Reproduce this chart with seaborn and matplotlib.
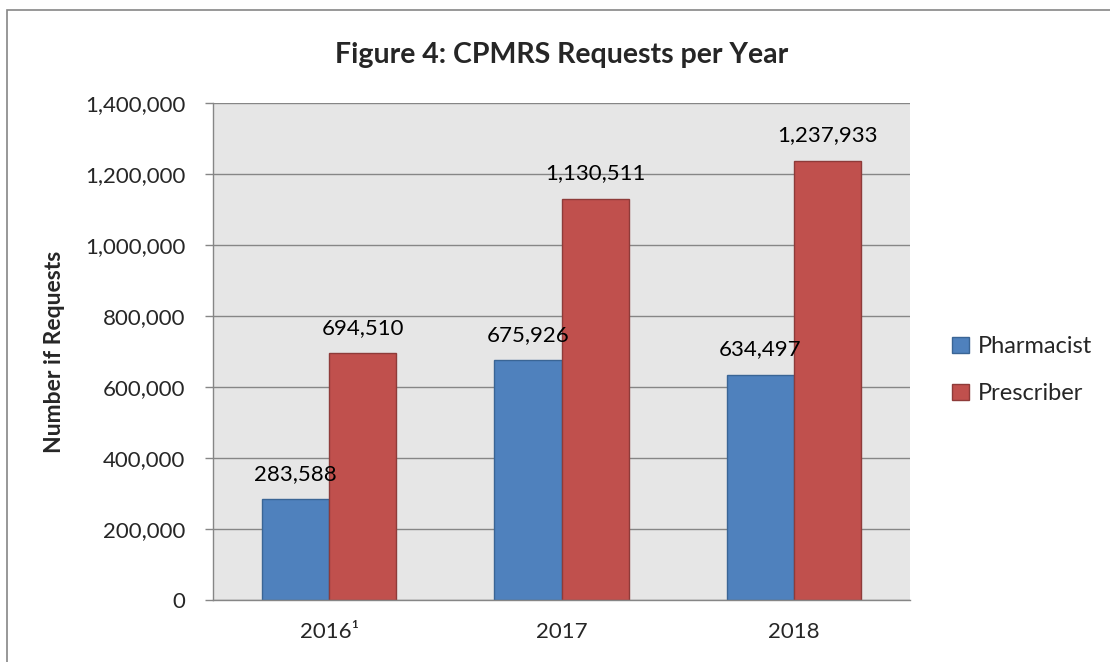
import matplotlib
matplotlib.use("Agg")
import matplotlib.pyplot as plt
import seaborn as sns
import pandas as pd
from matplotlib.patches import Rectangle

years = ["2016\u00b9", "2017", "2018"]
pharmacist = [283588, 675926, 634497]
prescriber = [694510, 1130511, 1237933]
series = ["Pharmacist", "Prescriber"]
colors = ["#4F81BD", "#C0504D"]
edges = ["#3A6595", "#8E3B39"]
yticks = [0, 200000, 400000, 600000, 800000, 1000000, 1200000, 1400000]

df = pd.DataFrame({
    "Year": years * 2,
    "Series": [series[0]] * 3 + [series[1]] * 3,
    "Value": pharmacist + prescriber,
})

sns.set_theme(style="white")
plt.rcParams["font.family"] = ["Lato", "DejaVu Sans"]

FS = 16
fig = plt.figure(figsize=(11.1, 6.62), dpi=100)
ax = fig.add_axes([213/1110, 1-600/662, (910-213)/1110, (600-103)/662])

sns.barplot(data=df, x="Year", y="Value", hue="Series", palette=colors,
            width=0.577, ax=ax, legend=True, saturation=1)

for i, cont in enumerate(ax.containers):
    for b in cont:
        b.set_edgecolor(edges[i])
        b.set_linewidth(1.0)
    ax.bar_label(cont, labels=[f"{v:,.0f}" for v in cont.datavalues],
                 padding=11, fontsize=FS, color="#000000")

ax.set_facecolor("#E6E6E6")
ax.set_ylim(0, 1400000)
ax.set_yticks(yticks)
ax.set_yticklabels([f"{v:,}" for v in yticks], fontsize=FS)
ax.tick_params(axis="y", length=5.8, width=1, color="#868686", pad=14, left=True)
ax.tick_params(axis="x", length=0, labelsize=FS, pad=16)
ax.grid(axis="y", color="#868686", linewidth=1)
ax.set_axisbelow(True)
for s in ["top", "right"]:
    ax.spines[s].set_visible(False)
for s in ["left", "bottom"]:
    ax.spines[s].set_color("#868686")
    ax.spines[s].set_linewidth(1)
ax.set_xlabel("")
ax.set_ylabel("Number if Requests", fontsize=16.5, fontweight="bold")
ax.yaxis.set_label_coords((65-213)/697, 0.5)
ax.set_xlim(-0.5, 2.5)

leg = ax.legend(loc="center left", bbox_to_anchor=(1.03, 0.462), frameon=False,
                fontsize=17, handlelength=0.7, handleheight=0.7,
                handletextpad=0.4, labelspacing=1.1)
for h, e in zip(leg.legend_handles, edges):
    h.set_edgecolor(e)

fig.text(562/1110, 1-55/662, "Figure 4: CPMRS Requests per Year",
         ha="center", va="center", fontsize=20.5, fontweight="bold")

fig.patches.append(Rectangle((7/1110, -0.05), 1.2, 1-10/662+0.05,
                             transform=fig.transFigure, fill=False,
                             edgecolor="#868686", linewidth=1.2))

fig.savefig("out.png", dpi=100, facecolor="white")
